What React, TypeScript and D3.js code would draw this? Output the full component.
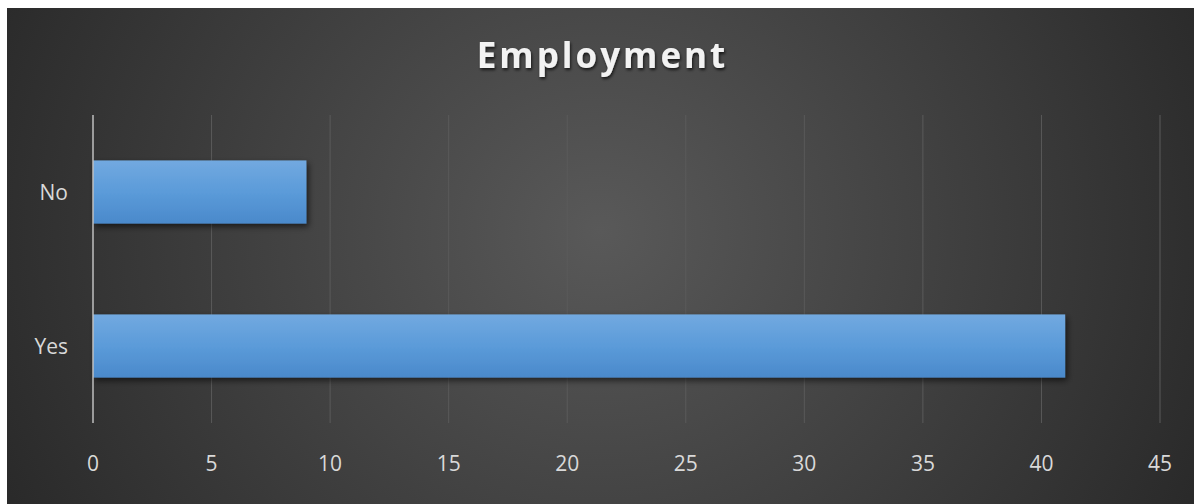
import React, { useEffect, useRef } from "react";
import * as d3 from "d3";

const categories = ["No", "Yes"];
const values = [9, 41];
const xTicks = [0, 5, 10, 15, 20, 25, 30, 35, 40, 45];
const title = "Employment";

const W = 1187;
const H = 496;
const margin = { top: 107, right: 34, bottom: 81, left: 86 };

const App = () => {
  const ref = useRef<SVGSVGElement>(null);

  useEffect(() => {
    const svg = d3.select(ref.current);
    svg.selectAll("*").remove();

    const defs = svg.append("defs");
    const bg = defs
      .append("radialGradient")
      .attr("id", "bg")
      .attr("cx", "50%")
      .attr("cy", "45%")
      .attr("r", "60%")
      .attr("gradientTransform", "translate(0.5 0.45) scale(1 2.2) translate(-0.5 -0.45)");
    bg.append("stop").attr("offset", "0%").attr("stop-color", "#595959");
    bg.append("stop").attr("offset", "100%").attr("stop-color", "#262626");

    const barGrad = defs
      .append("linearGradient")
      .attr("id", "bar")
      .attr("x1", 0)
      .attr("y1", 0)
      .attr("x2", 0)
      .attr("y2", 1);
    barGrad.append("stop").attr("offset", "0%").attr("stop-color", "#72a9e0");
    barGrad.append("stop").attr("offset", "50%").attr("stop-color", "#5b9bd9");
    barGrad.append("stop").attr("offset", "100%").attr("stop-color", "#4a89cb");

    const shadow = defs.append("filter").attr("id", "shadow").attr("x", "-10%").attr("y", "-20%").attr("width", "130%").attr("height", "160%");
    shadow
      .append("feDropShadow")
      .attr("dx", 2)
      .attr("dy", 3)
      .attr("stdDeviation", 3)
      .attr("flood-color", "#000")
      .attr("flood-opacity", 0.6);

    const tshadow = defs.append("filter").attr("id", "tshadow");
    tshadow
      .append("feDropShadow")
      .attr("dx", 1)
      .attr("dy", 2)
      .attr("stdDeviation", 1.5)
      .attr("flood-color", "#000")
      .attr("flood-opacity", 0.7);

    svg.append("rect").attr("width", W).attr("height", H).attr("fill", "url(#bg)");

    const x = d3
      .scaleLinear()
      .domain([0, 45])
      .range([margin.left, W - margin.right]);
    const y = d3
      .scaleBand()
      .domain(categories)
      .range([margin.top, H - margin.bottom])
      .paddingInner(0.59)
      .paddingOuter(0.295);

    // gridlines
    svg
      .append("g")
      .selectAll("line")
      .data(xTicks.slice(1))
      .join("line")
      .attr("x1", (d) => x(d))
      .attr("x2", (d) => x(d))
      .attr("y1", margin.top)
      .attr("y2", H - margin.bottom)
      .attr("stroke", "#5a5a5a")
      .attr("stroke-width", 1);

    // bars
    svg
      .append("g")
      .selectAll("rect")
      .data(categories)
      .join("rect")
      .attr("x", x(0))
      .attr("y", (d) => y(d)!)
      .attr("width", (d, i) => x(values[i]) - x(0))
      .attr("height", y.bandwidth())
      .attr("fill", "url(#bar)")
      .attr("filter", "url(#shadow)");

    // axis line
    svg
      .append("line")
      .attr("x1", x(0))
      .attr("x2", x(0))
      .attr("y1", margin.top)
      .attr("y2", H - margin.bottom)
      .attr("stroke", "#bfbfbf")
      .attr("stroke-width", 1.5);

    // x tick labels
    svg
      .append("g")
      .selectAll("text")
      .data(xTicks)
      .join("text")
      .attr("x", (d) => x(d))
      .attr("y", H - margin.bottom + 48)
      .attr("text-anchor", "middle")
      .attr("fill", "#d9d9d9")
      .attr("font-size", 21)
      .attr("font-family", "'Open Sans', sans-serif")
      .text((d) => d);

    // category labels
    svg
      .append("g")
      .selectAll("text")
      .data(categories)
      .join("text")
      .attr("x", x(0) - 25)
      .attr("y", (d) => y(d)! + y.bandwidth() / 2 + 7.5)
      .attr("text-anchor", "end")
      .attr("fill", "#d9d9d9")
      .attr("font-size", 21)
      .attr("font-family", "'Open Sans', sans-serif")
      .text((d) => d);

    // title
    svg
      .append("text")
      .attr("x", W / 2 + 2)
      .attr("y", 60)
      .attr("text-anchor", "middle")
      .attr("fill", "#f2f2f2")
      .attr("font-size", 35)
      .attr("font-weight", "bold")
      .attr("letter-spacing", 3)
      .attr("font-family", "'Open Sans', sans-serif")
      .attr("filter", "url(#tshadow)")
      .text(title);
  }, []);

  return (
    <svg
      ref={ref}
      width={W}
      height={H}
      style={{ position: "absolute", left: 7, top: 8, display: "block" }}
    />
  );
};

export default App;
